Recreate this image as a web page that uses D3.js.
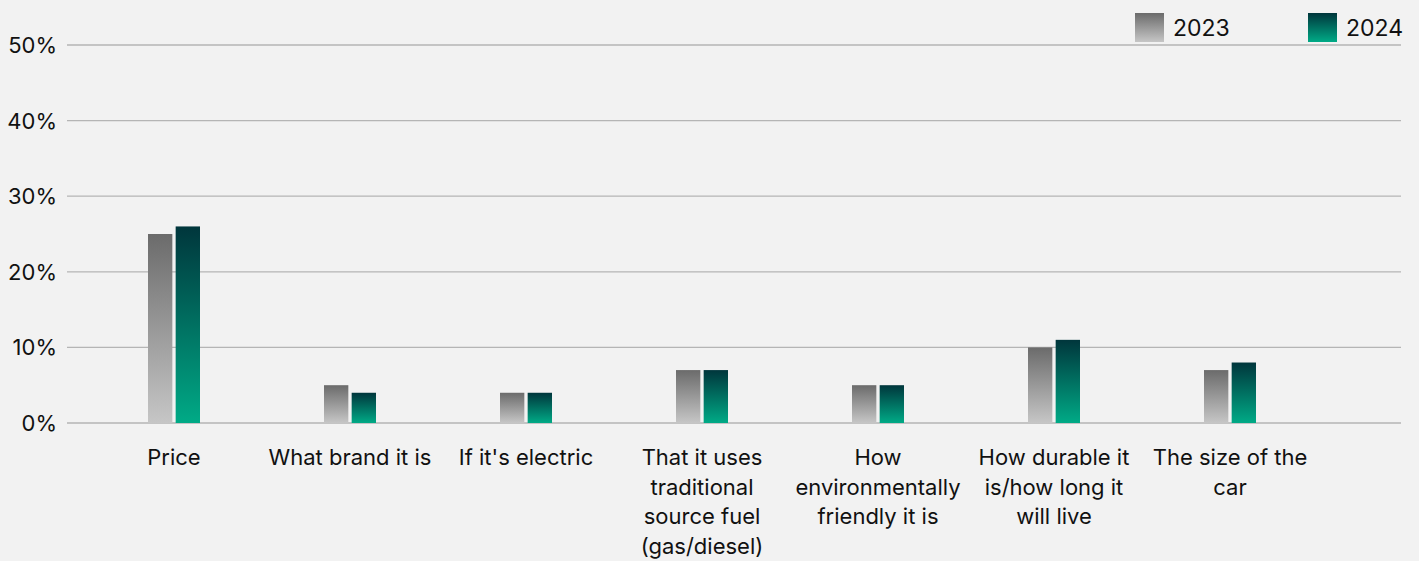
<!DOCTYPE html>
<html><head><meta charset="utf-8">
<script src="https://cdn.jsdelivr.net/npm/d3@7"></script>
<style>
html,body{margin:0;padding:0;background:#f2f2f2;}
svg{display:block;font-family:Inter,"Noto Sans",sans-serif;}
</style></head>
<body><svg id="chart" width="1419" height="561"></svg>
<script>
const categories = ["Price","What brand it is","If it's electric","That it uses\ntraditional\nsource fuel\n(gas/diesel)","How\nenvironmentally\nfriendly it is","How durable it\nis/how long it\nwill live","The size of the\ncar"];
const series = ["2023","2024"];
const values2023 = [25,5,4,7,5,10,7];
const values2024 = [26,4,4,7,5,11,8];
const yTicks = [0,10,20,30,40,50];

const svg = d3.select("#chart");
const W = 1419, H = 561;
svg.append("rect").attr("width",W).attr("height",H).attr("fill","#f2f2f2");

const defs = svg.append("defs");
const g1 = defs.append("linearGradient").attr("id","g2023").attr("x1",0).attr("y1",0).attr("x2",0).attr("y2",1);
g1.append("stop").attr("offset","0%").attr("stop-color","#6b6b6b");
g1.append("stop").attr("offset","100%").attr("stop-color","#c6c6c6");
const g2 = defs.append("linearGradient").attr("id","g2024").attr("x1",0).attr("y1",0).attr("x2",0).attr("y2",1);
g2.append("stop").attr("offset","0%").attr("stop-color","#00363c");
g2.append("stop").attr("offset","100%").attr("stop-color","#00aa86");

const y = d3.scaleLinear().domain([0,50]).range([423,45]);
const x = d3.scaleBand().domain(categories).range([86,1318]).paddingInner(0).paddingOuter(0);
const x1 = d3.scaleBand().domain(series).range([x.bandwidth()/2-26, x.bandwidth()/2+26]).paddingInner(0.12);

// gridlines
svg.append("g").selectAll("line").data(yTicks).join("line")
  .attr("x1",67).attr("x2",1401)
  .attr("y1",d=>y(d)).attr("y2",d=>y(d))
  .attr("stroke","#b5b5b5").attr("stroke-width",1.3);

// y labels
svg.append("g").selectAll("text").data(yTicks).join("text")
  .attr("x",57).attr("y",d=>y(d)).attr("dy","0.36em")
  .attr("text-anchor","end").attr("font-size",22).attr("fill","#111")
  .text(d=>d+"%");

// bars
const data = categories.map((c,i)=>({c, vals:[{s:"2023",v:values2023[i]},{s:"2024",v:values2024[i]}]}));
const groups = svg.append("g").selectAll("g").data(data).join("g")
  .attr("transform",d=>`translate(${x(d.c)},0)`);
groups.selectAll("rect").data(d=>d.vals).join("rect")
  .attr("x",d=>x1(d.s)).attr("width",x1.bandwidth())
  .attr("y",d=>y(d.v)).attr("height",d=>y(0)-y(d.v))
  .attr("fill",d=>`url(#g${d.s})`);

// x labels
const xl = svg.append("g").selectAll("text").data(categories).join("text")
  .attr("text-anchor","middle").attr("font-size",22).attr("fill","#111")
  .attr("x",d=>x(d)+x.bandwidth()/2).attr("y",465);
xl.each(function(d){
  const t = d3.select(this);
  d.split("\n").forEach((line,i)=>{
    t.append("tspan").attr("x",x(d)+x.bandwidth()/2).attr("dy",i===0?0:29.7).text(line);
  });
});

// legend
const legendX = [1135,1308];
const lg = svg.append("g").selectAll("g").data(series).join("g")
  .attr("transform",(d,i)=>`translate(${legendX[i]},13)`);
lg.append("rect").attr("width",29).attr("height",29).attr("fill",d=>`url(#g${d})`);
lg.append("text").attr("x",38).attr("y",23).attr("font-size",23).attr("fill","#111").text(d=>d);
</script></body></html>
